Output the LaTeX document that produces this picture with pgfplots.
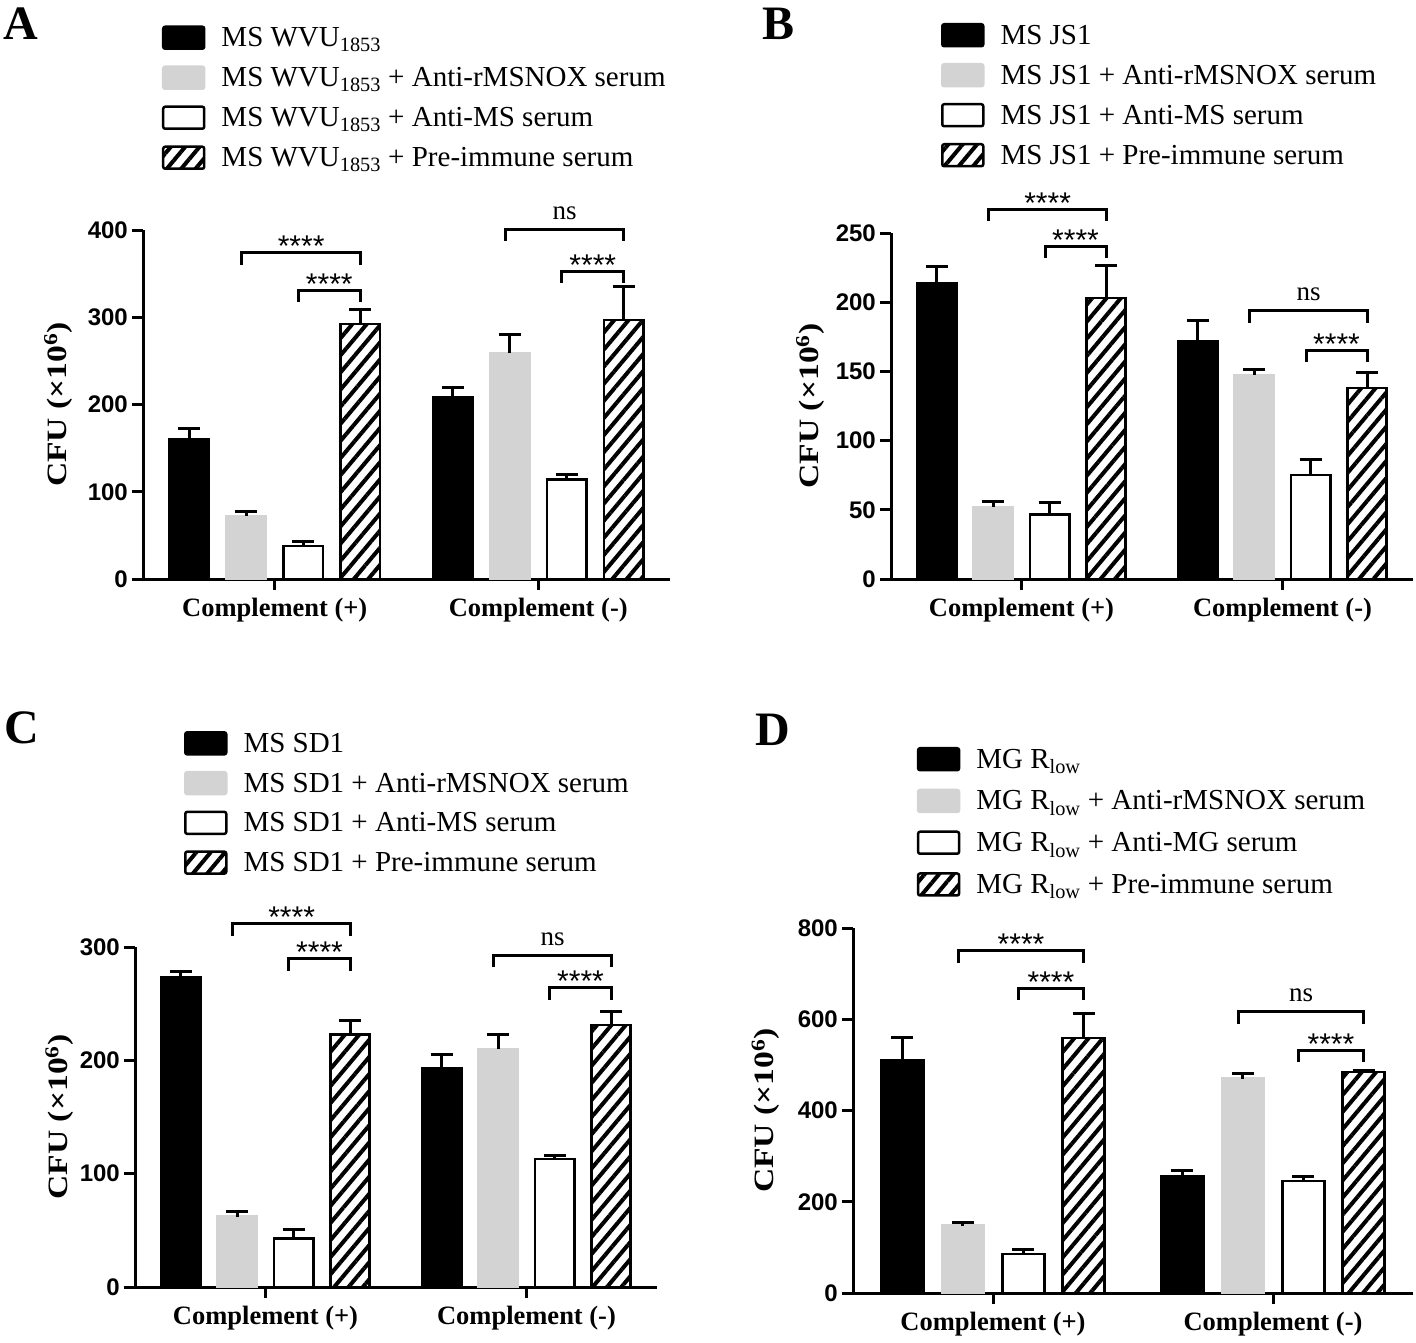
\documentclass[border=0pt]{standalone}
\usepackage{fontspec}
\setmainfont{Liberation Serif}
\newfontfamily\arial{Liberation Sans}
\usepackage{graphicx}
\usepackage{pgfplots}
\pgfplotsset{compat=1.18}
\usetikzlibrary{patterns.meta}
\definecolor{lgray}{RGB}{211,211,211}

\tikzset{
  brk/.style={line width=3pt, black, line cap=butt, line join=miter},
  starsty/.style={font=\arial\fontsize{30}{30}\selectfont, anchor=base, inner sep=0pt, yshift=-4pt},
  nssty/.style={font=\fontsize{27}{27}\selectfont, anchor=base, inner sep=0pt, yshift=10pt},
  panlab/.style={font=\bfseries\fontsize{48}{48}\selectfont, anchor=base west, inner sep=0pt},
}
\newcommand{\brk}[3]{\draw[brk] ([yshift=-12pt]axis cs:#1,#3) -- (axis cs:#1,#3) -- (axis cs:#2,#3) -- ([yshift=-12pt]axis cs:#2,#3);}
\newcommand{\stars}[2]{\node[starsty] at (axis cs:#1,#2) {****};}
\newcommand{\nstext}[2]{\node[nssty] at (axis cs:#1,#2) {ns};}

\pgfplotsset{
  panel/.style={
    scale only axis, anchor=south west, clip=false,
    xmin=-0.5, xmax=1.5, ymin=0, enlargelimits=false,
    axis lines*=left, axis line style={-, line width=3pt, black},
    xtick={0,1}, xticklabels={Complement (+),Complement (-)},
    tick align=outside, major tick length=11pt,
    tick style={line width=3pt, black},
    xticklabel style={font=\bfseries\fontsize{26.5}{26.5}\selectfont, inner sep=0pt, anchor=north, yshift=-8pt},
    yticklabel style={font=\arial\bfseries\fontsize{24}{24}\selectfont, inner sep=0pt, anchor=east, xshift=-4pt},
    /pgf/number format/assume math mode=true,
    ylabel={\scalebox{1.2}[1]{CFU (×10\textsuperscript{6})}},
    ylabel style={font=\bfseries\fontsize{28}{28}\selectfont, anchor=center},
    legend cell align=left,
    legend style={draw=none, fill=none, anchor=north west, inner sep=0pt, outer sep=0pt,
      font=\fontsize{29}{29}\selectfont,
      nodes={inner sep=0pt, text height=20pt, text depth=8pt},
      /tikz/every odd column/.append style={column sep=16pt}},
  },
  errs/.style={error bars/y dir=plus, error bars/y explicit,
    error bars/error bar style={line width=3pt, black},
    error bars/error mark options={rotate=90, black, mark size=11pt, line width=3pt}},
  legimg/.style={legend image code/.code={\draw[##1, line width=2.5pt, rounded corners=2pt] (0pt,-8pt) rectangle (41pt,14pt);}},
  bk/.style={ybar, bar width=0.15, bar shift=0pt, fill=black, draw=black, line width=2.5pt, legimg, errs},
  gy/.style={ybar, bar width=0.15, bar shift=0pt, fill=lgray, draw=lgray, line width=2.5pt, legimg, errs},
  wt/.style={ybar, bar width=0.15, bar shift=0pt, fill=white, draw=black, line width=2.5pt, legimg, errs},
  ht/.style={ybar, bar width=0.15, bar shift=0pt, pattern={Lines[angle=50,distance=11pt,line width=4pt]}, draw=black, line width=2.5pt, legimg, errs},
}

\begin{document}
\begin{tikzpicture}
\path[use as bounding box] (0,0) rectangle (1416pt,-1343pt);

% Panel letters
\node[panlab] at (3pt,-40pt) {A};
\node[panlab] at (762pt,-40pt) {B};
\node[panlab] at (4pt,-743pt) {C};
\node[panlab] at (755pt,-745pt) {D};

% ---------------- A ----------------
\begin{axis}[panel, at={(143pt,-579pt)}, width=527pt, height=349pt,
  ymax=400, ytick={0,100,200,300,400},
  ylabel style={at={(axis description cs:-0.161,0.5)}},
  legend style={at={(axis description cs:0.036,1.586)}, row sep=10.75pt}]
\addplot[bk] coordinates {(-0.324,160) +- (0,13) (0.676,208) +- (0,12)};
\addplot[gy] coordinates {(-0.108,72) +- (0,5) (0.892,259) +- (0,21)};
\addplot[wt] coordinates {(0.108,38) +- (0,5.5) (1.108,114) +- (0,6)};
\addplot[ht] coordinates {(0.324,292) +- (0,17) (1.324,297) +- (0,38)};
\legend{MS WVU\textsubscript{1853}, MS WVU\textsubscript{1853} + Anti-rMSNOX serum, MS WVU\textsubscript{1853} + Anti-MS serum, MS WVU\textsubscript{1853} + Pre-immune serum}
\brk{-0.125}{0.324}{374} \stars{0.1}{374}
\brk{0.09}{0.324}{331} \stars{0.207}{331}
\brk{0.875}{1.324}{401} \nstext{1.1}{401}
\brk{1.09}{1.324}{353} \stars{1.207}{353}
\end{axis}

% ---------------- B ----------------
\begin{axis}[panel, at={(891pt,-579pt)}, width=522pt, height=346pt,
  ymax=250, ytick={0,50,100,150,200,250},
  ylabel style={at={(axis description cs:-0.155,0.5)}},
  legend style={at={(axis description cs:0.0958,1.607)}, row sep=10.75pt}]
\addplot[bk] coordinates {(-0.324,214) +- (0,11.5) (0.676,171.5) +- (0,15.5)};
\addplot[gy] coordinates {(-0.108,52) +- (0,4) (0.892,147.5) +- (0,4)};
\addplot[wt] coordinates {(0.108,46.5) +- (0,9) (1.108,75) +- (0,11)};
\addplot[ht] coordinates {(0.324,203) +- (0,23.5) (1.324,138) +- (0,11)};
\legend{MS JS1, MS JS1 + Anti-rMSNOX serum, MS JS1 + Anti-MS serum, MS JS1 + Pre-immune serum}
\brk{-0.125}{0.324}{267} \stars{0.1}{267}
\brk{0.09}{0.324}{240.6} \stars{0.207}{240.6}
\brk{0.875}{1.324}{193.8} \nstext{1.1}{193.8}
\brk{1.09}{1.324}{165.4} \stars{1.207}{165.4}
\end{axis}

% ---------------- C ----------------
\begin{axis}[panel, at={(135pt,-1287pt)}, width=522pt, height=340pt,
  ymax=300, ytick={0,100,200,300},
  ylabel style={at={(axis description cs:-0.145,0.5)}},
  legend style={at={(axis description cs:0.0939,1.635)}, row sep=10.5pt}]
\addplot[bk] coordinates {(-0.324,273.5) +- (0,5) (0.676,193) +- (0,12)};
\addplot[gy] coordinates {(-0.108,62) +- (0,5) (0.892,210) +- (0,13)};
\addplot[wt] coordinates {(0.108,43) +- (0,7.5) (1.108,113) +- (0,3)};
\addplot[ht] coordinates {(0.324,223) +- (0,12) (1.324,231) +- (0,12.5)};
\legend{MS SD1, MS SD1 + Anti-rMSNOX serum, MS SD1 + Anti-MS serum, MS SD1 + Pre-immune serum}
\brk{-0.125}{0.324}{320.6} \stars{0.1}{320.6}
\brk{0.09}{0.324}{289.7} \stars{0.207}{289.7}
\brk{0.875}{1.324}{292.6} \nstext{1.1}{292.6}
\brk{1.09}{1.324}{264} \stars{1.207}{264}
\end{axis}

% ---------------- D ----------------
\begin{axis}[panel, at={(853pt,-1293pt)}, width=560pt, height=365pt,
  ymax=800, ytick={0,200,400,600,800},
  ylabel style={at={(axis description cs:-0.156,0.5)}},
  legend style={at={(axis description cs:0.114,1.496)}, row sep=12.5pt}]
\addplot[bk] coordinates {(-0.324,511) +- (0,50) (0.676,256) +- (0,13)};
\addplot[gy] coordinates {(-0.108,147.5) +- (0,8) (0.892,470) +- (0,12)};
\addplot[wt] coordinates {(0.108,86) +- (0,10) (1.108,245) +- (0,11)};
\addplot[ht] coordinates {(0.324,559) +- (0,53) (1.324,484) +- (0,4)};
\legend{MG R\textsubscript{low}, MG R\textsubscript{low} + Anti-rMSNOX serum, MG R\textsubscript{low} + Anti-MG serum, MG R\textsubscript{low} + Pre-immune serum}
\brk{-0.125}{0.324}{750} \stars{0.1}{750}
\brk{0.09}{0.324}{668} \stars{0.207}{668}
\brk{0.875}{1.324}{616.5} \nstext{1.1}{616.5}
\brk{1.09}{1.324}{532} \stars{1.207}{532}
\end{axis}
\end{tikzpicture}
\end{document}
